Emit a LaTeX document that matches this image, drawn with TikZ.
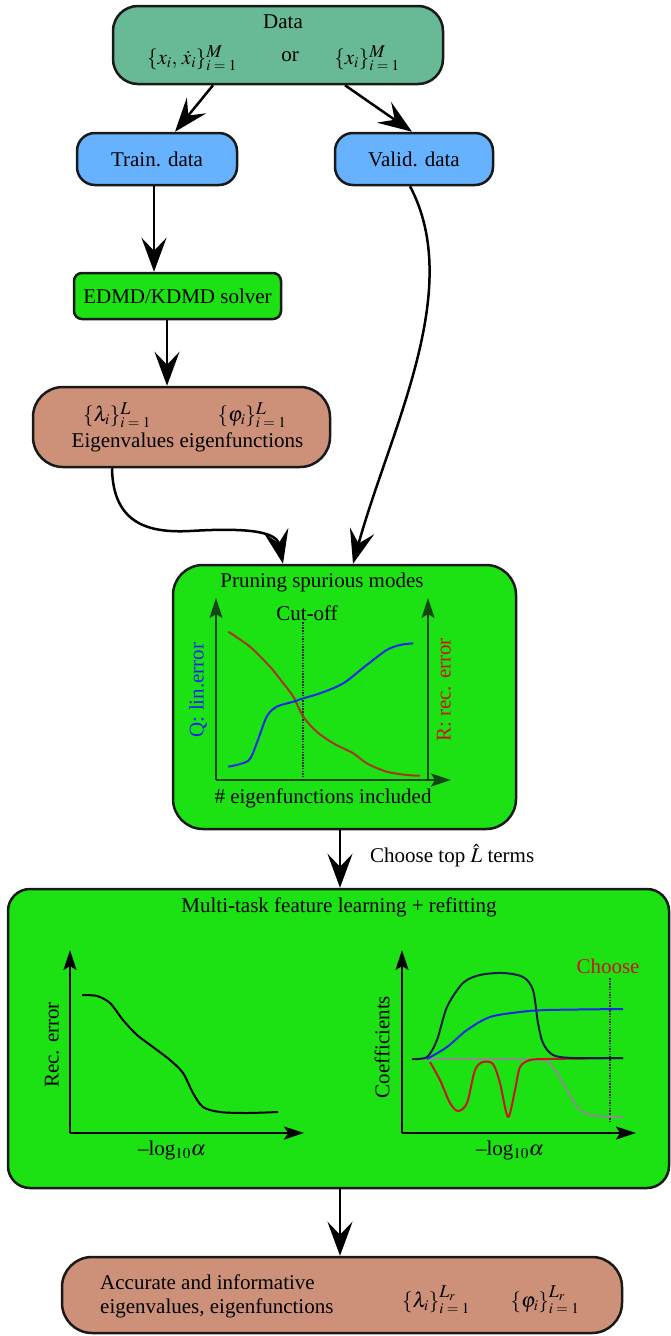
\documentclass[tikz,border=0pt]{standalone}
\usepackage{mathptmx}
\usepackage[no-math]{fontspec}
\setmainfont{Liberation Serif}
\newcommand{\mylo}[1]{\mbox{\fontsize{15}{15}\selectfont$#1$}}
\newcommand{\myhi}[1]{\mbox{\fontsize{18}{18}\selectfont$#1$}}
\usetikzlibrary{arrows.meta}
\definecolor{teal1}{RGB}{104,185,150}
\definecolor{blue1}{RGB}{102,178,255}
\definecolor{green1}{RGB}{28,226,20}
\definecolor{salmon1}{RGB}{205,145,122}
\definecolor{axgreen}{RGB}{20,70,20}
\definecolor{brown1}{RGB}{165,55,25}
\definecolor{blue2}{RGB}{20,40,230}
\definecolor{red1}{RGB}{200,20,20}
\definecolor{navy1}{RGB}{15,30,70}
\definecolor{gray1}{RGB}{140,140,140}
\begin{document}
\begin{tikzpicture}[x=1pt,y=-1pt,
  every node/.style={font=\fontsize{21}{24}\selectfont, inner sep=0pt},
  box/.style={draw=black!90, line width=2.5pt, inner sep=0pt},
  arr/.style={line width=2.5pt, -{Stealth[length=34pt,width=25pt,inset=13pt]}},
  axis/.style={line width=2pt, -{Stealth[length=20pt,width=13pt,inset=4pt]}},
  curve/.style={line width=2pt, line join=round},
  cut/.style={line width=1.6pt, black!85, dash pattern=on 1.5pt off 1.2pt}
]
\useasboundingbox (0,0) rectangle (671,1336);

% boxes
\node[box, fill=teal1, minimum width=330pt, minimum height=78pt, rounded corners=25pt] (data) at (278,45) {};
\node[box, fill=blue1, minimum width=160pt, minimum height=52pt, rounded corners=18pt] (train) at (157,159) {};
\node[box, fill=blue1, minimum width=158pt, minimum height=52pt, rounded corners=18pt] (valid) at (414,159) {};
\node[box, fill=green1, minimum width=207pt, minimum height=46pt, rounded corners=8pt] (edmd) at (177.5,296) {};
\node[box, fill=salmon1, minimum width=297pt, minimum height=80pt, rounded corners=30pt] (eigen) at (181.5,427) {};
\node[box, fill=green1, minimum width=343pt, minimum height=264pt, rounded corners=30pt] (prune) at (344.5,697) {};
\node[box, fill=green1, minimum width=661pt, minimum height=299pt, rounded corners=22pt] (multi) at (338.5,1038.5) {};
\node[box, fill=salmon1, minimum width=560pt, minimum height=76pt, rounded corners=30pt] (final) at (342,1295) {};

% texts
\node (tdata) at (283,22) {Data};
\node (f1) at (192,58) {$\{x_{\mylo{i}},\,\dot{x}_{\mylo{i}}\}_{\mylo{i=1}}^{\myhi{M}}$};
\node (tor) at (290,57) {or};
\node (f2) at (367,58) {$\{x_{\mylo{i}}\}_{\mylo{i=1}}^{\myhi{M}}$};
\node (ttrain) at (157,159) {Train. data};
\node (tvalid) at (414,159) {Valid. data};
\node (tedmd) at (177.5,296) {EDMD/KDMD solver};
\node (f3) at (117,415) {$\{\lambda_{\mylo{i}}\}_{\mylo{i=1}}^{\myhi{L}}$};
\node (f4) at (252,415) {$\{\varphi_{\mylo{i}}\}_{\mylo{i=1}}^{\myhi{L}}$};
\node (teig) at (187.5,442) {Eigenvalues eigenfunctions};

% arrows
\draw[arr] ([xshift=-65pt]data.south) -- ([xshift=18pt]train.north);
\draw[arr] ([xshift=67pt]data.south) -- ([xshift=-2pt]valid.north);
\draw[arr] ([xshift=-3pt]train.south) -- ([xshift=-23.5pt]edmd.north);
\draw[arr] ([xshift=-10.5pt]edmd.south) -- ([xshift=-14.5pt]eigen.north);
\coordinate (m1) at (190,531);
\draw[arr] ([xshift=-69.5pt]eigen.south) .. controls (113,525) and (150,533) .. (m1)
  .. controls (240,528) and (276,530) .. ([xshift=-61.5pt]prune.north);
\draw[arr] ([xshift=-4pt]valid.south) .. controls (465,290) and (390,430) .. ([xshift=8.5pt]prune.north);
\draw[arr] ([xshift=-4.5pt]prune.south) -- ([xshift=1.5pt]multi.north);
\draw[arr] ([xshift=1.5pt]multi.south) -- ([xshift=-2pt]final.north);
\node[anchor=west] (choose) at (370,856) {Choose top $\hat{L}$ terms};

% pruning plot
\node (tprune) at (322,582) {Pruning spurious modes};
\coordinate (po) at (216,780);
\draw[axis, axgreen] (po) -- (216,598);
\draw[axis, axgreen] (428,780) -- (428,598);
\draw[axis, axgreen] (po) -- (451,780);
\node (tcut) at (307,613) {Cut-off};
\draw[cut] (303,622) -- (303,780);
\draw[curve, brown1] plot[smooth] coordinates {(228.3,631.7) (250,646.7) (270,666.7) (283.3,683.3) (293.3,696.7) (303.3,716.7) (316.7,731.7) (333.3,743.3) (353.3,753.3) (366.7,763.3) (386.7,771.7) (406.7,775) (420,775.7)};
\draw[curve, blue2] plot[smooth] coordinates {(228.3,766.7) (248.3,760.7) (256.7,743.3) (266.7,716.7) (276.7,706.7) (293.3,701.7) (303.3,698.3) (320,693.3) (343.3,683.3) (366.7,665) (386.7,650) (400,645) (413.3,643.3)};
\node[rotate=90, text=blue2] (qlab) at (198,690) {Q: lin.error};
\node[rotate=90, text=red1] (rlab) at (444,690) {R: rec. error};
\node (teigs) at (323,798) {\# eigenfunctions included};

% multi-task panel
\node (tmulti) at (339,907) {Multi-task feature learning + refitting};
% left plot
\draw[axis, black] (70,1133) -- (70,950);
\draw[axis, black] (70,1133) -- (304,1133);
\draw[curve, black] plot[smooth] coordinates {(82,995) (97,996) (110,1003) (123,1020) (137,1035) (153,1047) (170,1060) (183,1073) (193,1093) (203,1107) (220,1112) (247,1113) (278,1112)};
\node[rotate=90] (trec) at (52,1045) {Rec. error};
\node (tlog1) at (172,1150) {–log$_{\mylo{10}}\alpha$};
% right plot
\draw[axis, black] (402,1133) -- (402,950);
\draw[axis, black] (402,1133) -- (636,1133);
\draw[cut] (610,978) -- (610,1122);
\draw[curve, gray1] plot[smooth] coordinates {(412,1059) (480,1059) (540,1060) (553,1067) (567,1090) (580,1110) (597,1116) (623,1117)};
\draw[curve, red1] plot[smooth] coordinates {(430,1062) (440,1080) (450,1103) (458,1111) (467,1103) (475,1070) (483,1062) (493,1064) (500,1083) (508,1117) (515,1090) (520,1067) (530,1060) (545,1059)};
\draw[curve, red1] (545,1059) -- (623,1058);
\draw[curve, navy1] plot[smooth] coordinates {(412,1059) (427,1057) (437,1040) (447,1007) (463,983) (480,975) (503,973) (523,977) (533,990) (538,1023) (543,1043) (553,1055) (573,1058) (623,1058)};
\draw[curve, blue2] plot[smooth] coordinates {(427,1059) (447,1047) (467,1030) (490,1017) (520,1012) (547,1010) (623,1009)};
\node[rotate=90] (tcoef) at (382,1047) {Coefficients};
\node[text=red1] (tchoose) at (608,966) {Choose};
\node (tlog2) at (510,1150) {–log$_{\mylo{10}}\alpha$};

% final box texts
\node[anchor=west, align=left] (tacc) at (100,1296) {Accurate and informative\\eigenvalues, eigenfunctions};
\node (f5) at (436,1300) {$\{\lambda_{\mylo{i}}\}_{\mylo{i=1}}^{\myhi{L_r}}$};
\node (f6) at (545,1300) {$\{\varphi_{\mylo{i}}\}_{\mylo{i=1}}^{\myhi{L_r}}$};
\end{tikzpicture}
\end{document}
